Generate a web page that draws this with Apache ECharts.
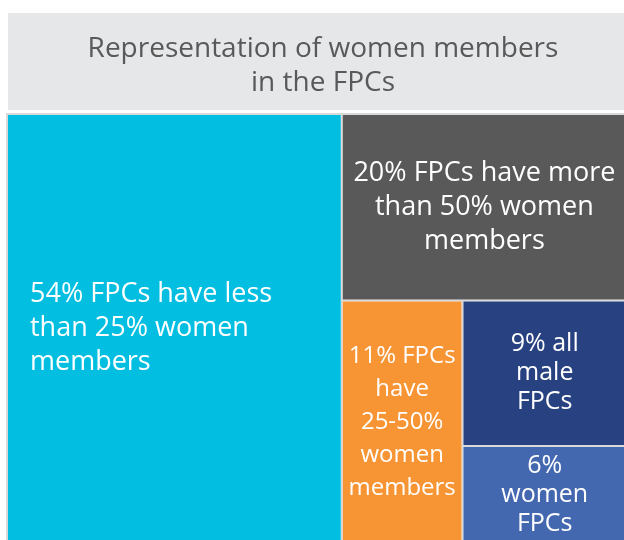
<!DOCTYPE html>
<html>
<head>
<meta charset="utf-8">
<script src="https://cdn.jsdelivr.net/npm/echarts@6/dist/echarts.min.js"></script>
<style>
  html, body { margin: 0; padding: 0; background: #fff; }
  #chart { width: 624px; height: 540px; }
</style>
</head>
<body>
<div id="chart"></div>
<script>
var chartDom = document.getElementById('chart');
var myChart = echarts.init(chartDom);
var option;

// chart data
var titleText = 'Representation of women members\nin the FPCs';
var labels = [
    '54% FPCs have less\nthan 25% women\nmembers',
    '20% FPCs have more\nthan 50% women\nmembers',
    '11% FPCs\nhave\n25-50%\nwomen\nmembers',
    '9% all\nmale\nFPCs',
    '6%\nwomen\nFPCs'
];
var values = [54, 20, 11, 9, 6];
var colors = ['#02bee0', '#595959', '#f79433', '#284180', '#4468b0'];

var fontFamily = '"Open Sans", "DejaVu Sans", sans-serif';

var treeData = values.map(function (v, i) {
    var item = {
        name: labels[i],
        value: v,
        itemStyle: { color: colors[i] }
    };
    if (i === 0) {
        item.label = { position: 'insideLeft', distance: 22, align: 'left' };
    } else if (i === 2) {
        item.label = { fontSize: 24, lineHeight: 33 };
    } else if (i > 2) {
        item.label = { fontSize: 25, lineHeight: 29 };
    }
    return item;
});

option = {
    backgroundColor: '#ffffff',
    title: {
        text: titleText,
        left: 318,
        top: 27,
        textAlign: 'center',
        textStyle: {
            fontFamily: fontFamily,
            fontWeight: 'normal',
            fontSize: 28,
            lineHeight: 34,
            color: '#595959'
        }
    },
    graphic: [
        {
            type: 'rect',
            z: -1,
            shape: { x: 8, y: 13, width: 620, height: 97 },
            style: { fill: '#e6e7e9' }
        }
    ],
    series: [
        {
            type: 'treemap',
            left: 6,
            top: 113,
            right: -4,
            bottom: -4,
            roam: false,
            nodeClick: false,
            squareRatio: 0.9,
            breadcrumb: { show: false },
            levels: [
                {
                    itemStyle: {
                        borderColor: '#d9d9d9',
                        borderWidth: 2,
                        gapWidth: 2
                    }
                },
                {
                    itemStyle: { borderWidth: 0 }
                }
            ],
            label: {
                show: true,
                position: 'inside',
                align: 'center',
                verticalAlign: 'middle',
                formatter: '{b}',
                padding: 0,
                overflow: 'none',
                lineOverflow: 'none',
                color: '#ffffff',
                fontFamily: fontFamily,
                fontSize: 27,
                lineHeight: 34
            },
            data: treeData
        }
    ]
};

option && myChart.setOption(option);
</script>
</body>
</html>
